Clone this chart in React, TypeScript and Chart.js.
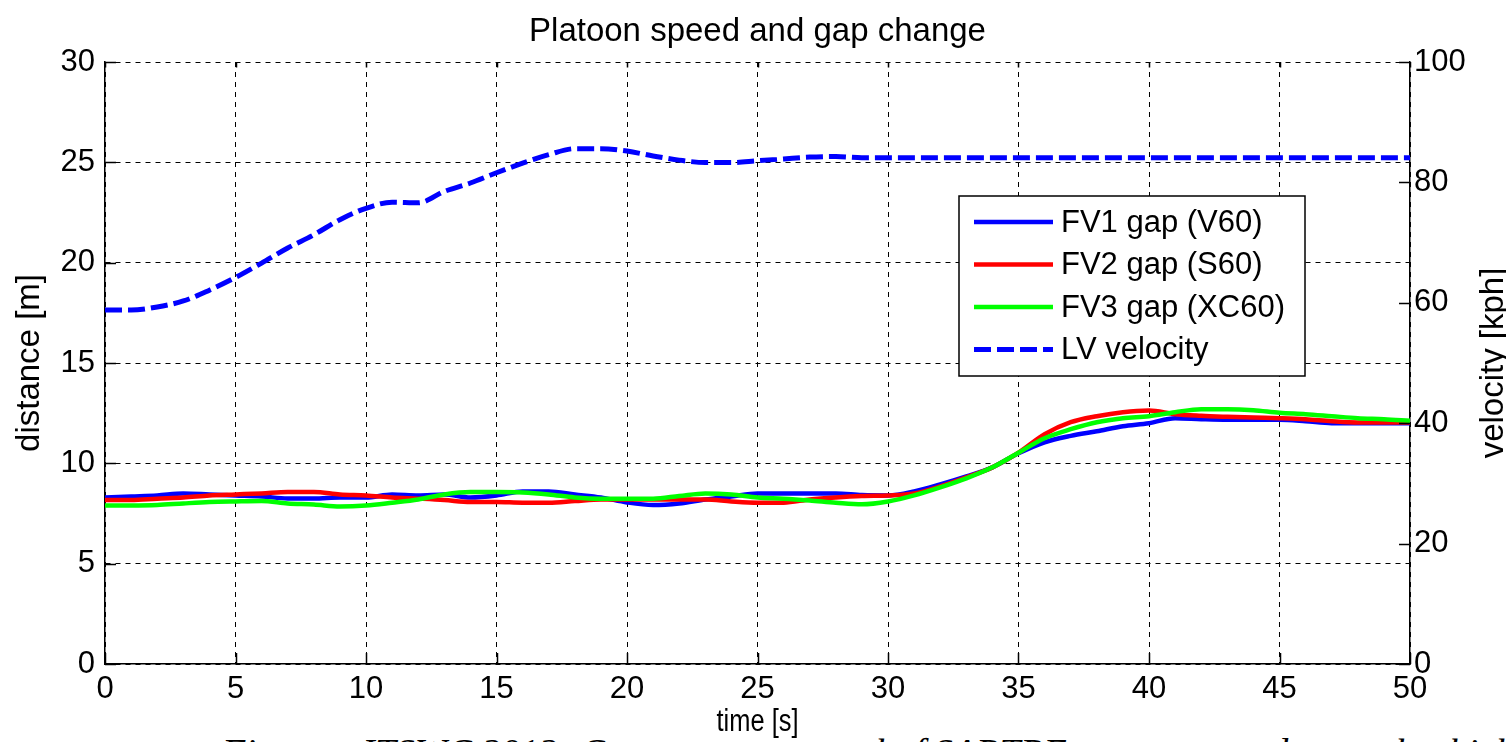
import React, { useEffect, useRef } from "react";
import { Chart, registerables } from "chart.js";

Chart.register(...registerables);

// ---------------- data ----------------
const CHART_TITLE = "Platoon speed and gap change";
const X_LABEL = "time [s]";
const Y_LEFT_LABEL = "distance [m]";
const Y_RIGHT_LABEL = "velocity [kph]";
const SERIES_LABELS = ["FV1 gap (V60)", "FV2 gap (S60)", "FV3 gap (XC60)", "LV velocity"];
const CAPTION_START = "Figure";
const CAPTION_REST = "ITSWC 2012: Cooperative control of SARTRE sensors tested on real vehicles";

const TIME = [
  0, 1, 2, 3, 4, 5, 6, 7, 8, 9, 10, 11, 12, 13, 14, 15, 16, 17, 18, 19, 20, 21, 22, 23, 24, 25,
  26, 27, 28, 29, 30, 31, 32, 33, 34, 35, 36, 37, 38, 39, 40, 41, 42, 43, 44, 45, 46, 47, 48, 49, 50,
];

// distance [m]
const FV1_GAP = [
  8.3, 8.35, 8.4, 8.5, 8.45, 8.4, 8.35, 8.25, 8.25, 8.3, 8.3, 8.45, 8.4, 8.45, 8.3, 8.4, 8.6, 8.6,
  8.45, 8.3, 8.05, 7.92, 8.0, 8.2, 8.35, 8.5, 8.5, 8.5, 8.5, 8.42, 8.4, 8.6, 8.95, 9.35, 9.8, 10.5,
  11.05, 11.37, 11.6, 11.85, 12.0, 12.25, 12.2, 12.17, 12.17, 12.17, 12.1, 12.0, 12.0, 12.0, 12.0,
];
const FV2_GAP = [
  8.17, 8.17, 8.24, 8.3, 8.4, 8.45, 8.5, 8.57, 8.57, 8.45, 8.4, 8.3, 8.24, 8.17, 8.07, 8.07, 8.04,
  8.04, 8.12, 8.2, 8.2, 8.2, 8.2, 8.2, 8.1, 8.04, 8.04, 8.2, 8.3, 8.37, 8.4, 8.5, 8.85, 9.3, 9.8,
  10.53, 11.45, 12.05, 12.35, 12.55, 12.63, 12.45, 12.37, 12.32, 12.28, 12.25, 12.2, 12.1, 12.04,
  12.04, 12.04,
];
const FV3_GAP = [
  7.9, 7.9, 7.92, 8.0, 8.07, 8.1, 8.12, 8.0, 7.95, 7.85, 7.9, 8.04, 8.2, 8.45, 8.57, 8.57, 8.55,
  8.45, 8.3, 8.24, 8.24, 8.24, 8.37, 8.5, 8.45, 8.3, 8.24, 8.15, 8.04, 7.96, 8.1, 8.4, 8.8, 9.25,
  9.8, 10.53, 11.25, 11.7, 12.05, 12.25, 12.35, 12.55, 12.7, 12.7, 12.65, 12.52, 12.45, 12.35,
  12.25, 12.2, 12.12,
];
// velocity [kph]
const LV_VELOCITY = [
  58.8, 58.8, 59.3, 60.3, 62.1, 64.2, 66.6, 69.1, 71.3, 73.8, 75.7, 76.7, 76.6, 78.5, 79.9, 81.6,
  83.2, 84.6, 85.6, 85.6, 85.2, 84.4, 83.7, 83.3, 83.3, 83.6, 83.9, 84.2, 84.3, 84.1, 84.1, 84.1,
  84.1, 84.1, 84.1, 84.1, 84.1, 84.1, 84.1, 84.1, 84.1, 84.1, 84.1, 84.1, 84.1, 84.1, 84.1, 84.1,
  84.1, 84.1, 84.1,
];

const X_RANGE = [0, 50];
const X_STEP = 5;
const Y_LEFT_RANGE = [0, 30];
const Y_LEFT_STEP = 5;
const Y_RIGHT_RANGE = [0, 100];
const Y_RIGHT_STEP = 20;

// ---------------- style ----------------
const SANS = "'Liberation Sans', Arial, Helvetica, sans-serif";
const SERIF = "'Liberation Serif', 'Times New Roman', serif";
const COLORS = ["#0000ff", "#ff0000", "#00ff00", "#0000ff"];
const TICK_FONT = 31;
const LABEL_FONT = 33;
const X_LABEL_FONT = 31;
const X_LABEL_SQUEEZE = 0.82;
const LEGEND_FONT = 31;
const GAP_WIDTH = 4.5;
const LV_WIDTH = 5;
const LV_DASH = [17, 6];
const GRID_DASH = [5, 5];
const INNER_TICK = 11;

const W = 1506;
const H = 742;

const toPoints = (ys: number[]) => TIME.map((t, i) => ({ x: t, y: ys[i] }));

const decorations = {
  id: "decorations",
  afterDraw(chart: any) {
    const ctx = chart.ctx;
    const ca = chart.chartArea;
    const xs = chart.scales.x;
    const yl = chart.scales.y;
    const yr = chart.scales.y1;
    ctx.save();
    // inner tick marks (MATLAB style)
    ctx.strokeStyle = "#000";
    ctx.lineWidth = 1.5;
    ctx.setLineDash([]);
    ctx.beginPath();
    xs.ticks.forEach((t: any) => {
      const px = Math.round(xs.getPixelForValue(t.value)) + 0.5;
      ctx.moveTo(px, ca.bottom);
      ctx.lineTo(px, ca.bottom - INNER_TICK);
      ctx.moveTo(px, ca.top);
      ctx.lineTo(px, ca.top + INNER_TICK * 0.5);
    });
    yl.ticks.forEach((t: any) => {
      const py = Math.round(yl.getPixelForValue(t.value)) + 0.5;
      ctx.moveTo(ca.left, py);
      ctx.lineTo(ca.left + INNER_TICK, py);
    });
    yr.ticks.forEach((t: any) => {
      const py = Math.round(yr.getPixelForValue(t.value)) + 0.5;
      ctx.moveTo(ca.right, py);
      ctx.lineTo(ca.right - INNER_TICK, py);
    });
    ctx.moveTo(ca.left, ca.top + 0.5);
    ctx.lineTo(ca.left + 6, ca.top + 0.5);
    ctx.moveTo(ca.right, ca.top + 0.5);
    ctx.lineTo(ca.right - 6, ca.top + 0.5);
    ctx.stroke();

    // title
    ctx.fillStyle = "#000";
    ctx.font = `${LABEL_FONT}px ${SANS}`;
    ctx.textAlign = "center";
    ctx.textBaseline = "alphabetic";
    ctx.fillText(CHART_TITLE, (ca.left + ca.right) / 2, 41);

    // x-axis title (condensed) on a white patch, since it sits over the caption
    ctx.font = `${X_LABEL_FONT}px ${SANS}`;
    const w = ctx.measureText(X_LABEL).width * X_LABEL_SQUEEZE;
    const cx = (ca.left + ca.right) / 2;
    ctx.fillStyle = "#fff";
    ctx.fillRect(cx - w / 2 - 4, ca.bottom + 42, w + 8, H - ca.bottom - 42);
    ctx.fillStyle = "#000";
    ctx.save();
    ctx.translate(cx, 731);
    ctx.scale(X_LABEL_SQUEEZE, 1);
    ctx.fillText(X_LABEL, 0, 0);
    ctx.restore();

    // right axis title, reading bottom-to-top
    ctx.save();
    ctx.font = `${LABEL_FONT}px ${SANS}`;
    ctx.translate(W - 3, (ca.top + ca.bottom) / 2);
    ctx.rotate(-Math.PI / 2);
    ctx.textAlign = "center";
    ctx.textBaseline = "alphabetic";
    ctx.fillText(Y_RIGHT_LABEL, 0, 0);
    ctx.restore();

    // legend
    const bx = ca.left + 854;
    const by = ca.top + 134;
    const bw = 346;
    const bh = 180;
    ctx.fillStyle = "#fff";
    ctx.fillRect(bx, by, bw, bh);
    ctx.lineWidth = 1.5;
    ctx.strokeStyle = "#000";
    ctx.strokeRect(bx, by, bw, bh);
    ctx.font = `${LEGEND_FONT}px ${SANS}`;
    ctx.textAlign = "left";
    ctx.textBaseline = "middle";
    chart.data.datasets
      .slice()
      .sort((a: any, b: any) => a.legendIndex - b.legendIndex)
      .forEach((ds: any, i: number) => {
        const ry = by + 26 + i * 42.5;
        ctx.strokeStyle = ds.borderColor;
        ctx.lineWidth = ds.borderWidth;
        ctx.setLineDash(ds.borderDash || []);
        ctx.beginPath();
        ctx.moveTo(bx + 15, ry);
        ctx.lineTo(bx + 94, ry);
        ctx.stroke();
        ctx.setLineDash([]);
        ctx.fillStyle = "#000";
        ctx.fillText(ds.label, bx + 102, ry + 1);
      });
    ctx.restore();
  },
};

export default function App() {
  const canvasRef = useRef<HTMLCanvasElement | null>(null);

  useEffect(() => {
    if (!canvasRef.current) return;
    const chart = new Chart(canvasRef.current, {
      type: "line",
      data: {
        datasets: [
          {
            label: SERIES_LABELS[3],
            legendIndex: 3,
            data: toPoints(LV_VELOCITY),
            yAxisID: "y1",
            borderColor: COLORS[3],
            borderWidth: LV_WIDTH,
            borderDash: LV_DASH,
            pointRadius: 0,
            cubicInterpolationMode: "monotone",
            fill: false,
            order: 0,
          } as any,
          {
            label: SERIES_LABELS[2],
            legendIndex: 2,
            data: toPoints(FV3_GAP),
            yAxisID: "y",
            borderColor: COLORS[2],
            borderWidth: GAP_WIDTH,
            pointRadius: 0,
            cubicInterpolationMode: "monotone",
            fill: false,
            order: 1,
          },
          {
            label: SERIES_LABELS[1],
            legendIndex: 1,
            data: toPoints(FV2_GAP),
            yAxisID: "y",
            borderColor: COLORS[1],
            borderWidth: GAP_WIDTH,
            pointRadius: 0,
            cubicInterpolationMode: "monotone",
            fill: false,
            order: 2,
          },
          {
            label: SERIES_LABELS[0],
            legendIndex: 0,
            data: toPoints(FV1_GAP),
            yAxisID: "y",
            borderColor: COLORS[0],
            borderWidth: GAP_WIDTH,
            pointRadius: 0,
            cubicInterpolationMode: "monotone",
            fill: false,
            order: 3,
          },
        ],
      },
      options: {
        responsive: false,
        animation: false,
        devicePixelRatio: 1,
        layout: { padding: { top: 62, left: 0, right: 0, bottom: 0 } },
        plugins: {
          legend: { display: false },
          title: { display: false },
          tooltip: { enabled: false },
        },
        scales: {
          x: {
            type: "linear",
            position: "bottom",
            min: X_RANGE[0],
            max: X_RANGE[1],
            ticks: {
              stepSize: X_STEP,
              autoSkip: false,
              maxRotation: 0,
              color: "#000",
              padding: 7,
              font: { family: SANS, size: TICK_FONT },
            },
            grid: { color: "#000", lineWidth: 1, drawTicks: false },
            border: { display: true, color: "#000", width: 1.5, dash: GRID_DASH },
            afterFit: (s: any) => {
              s.height = 78;
            },
          },
          y: {
            type: "linear",
            position: "left",
            min: Y_LEFT_RANGE[0],
            max: Y_LEFT_RANGE[1],
            ticks: {
              stepSize: Y_LEFT_STEP,
              color: "#000",
              padding: 10,
              font: { family: SANS, size: TICK_FONT },
            },
            grid: { color: "#000", lineWidth: 1, drawTicks: false },
            border: { display: true, color: "#000", width: 1.5, dash: GRID_DASH },
            title: {
              display: true,
              text: Y_LEFT_LABEL,
              color: "#000",
              font: { family: SANS, size: LABEL_FONT },
              padding: { top: 10, bottom: 0 },
            },
            afterFit: (s: any) => {
              s.width = 105;
            },
          },
          y1: {
            type: "linear",
            position: "right",
            min: Y_RIGHT_RANGE[0],
            max: Y_RIGHT_RANGE[1],
            ticks: {
              stepSize: Y_RIGHT_STEP,
              color: "#000",
              padding: 4,
              font: { family: SANS, size: TICK_FONT },
            },
            grid: { drawOnChartArea: false, drawTicks: false },
            border: { display: true, color: "#000", width: 1.5 },
            afterFit: (s: any) => {
              s.width = 96;
            },
          },
        },
      },
      plugins: [decorations],
    });
    return () => chart.destroy();
  }, []);

  const captionStyle: React.CSSProperties = {
    position: "absolute",
    top: 733,
    fontFamily: SERIF,
    fontStyle: "italic",
    fontSize: 38,
    lineHeight: "38px",
    whiteSpace: "nowrap",
    color: "#000",
  };

  return (
    <div
      style={{
        position: "fixed",
        left: 0,
        top: 0,
        width: W,
        height: H,
        overflow: "hidden",
        background: "#fff",
      }}
    >
      <div style={{ ...captionStyle, left: 222 }}>{CAPTION_START}</div>
      <div style={{ ...captionStyle, left: 362 }}>{CAPTION_REST}</div>
      <canvas
        ref={canvasRef}
        width={W}
        height={H}
        style={{ position: "absolute", left: 0, top: 0, width: W, height: H }}
      />
    </div>
  );
}
